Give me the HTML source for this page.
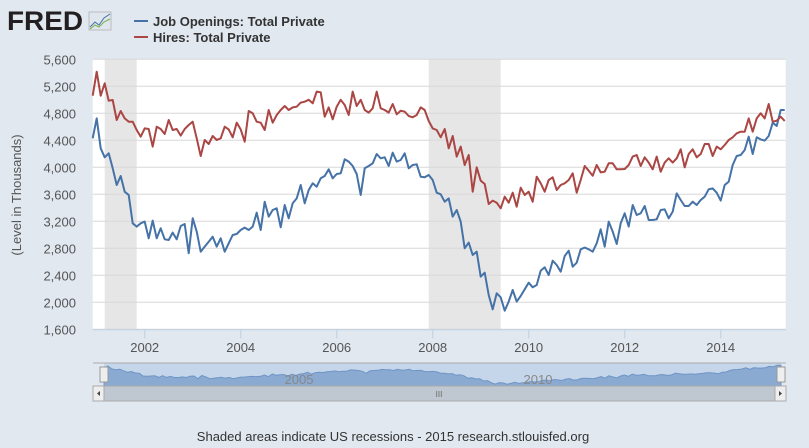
<!DOCTYPE html>
<html><head><meta charset="utf-8"><style>
body{margin:0;background:#e1e8f0;width:809px;height:448px;overflow:hidden;font-family:"Liberation Sans",sans-serif}
svg{position:absolute;left:0;top:0}
</style></head><body>
<svg id="c" width="809" height="448"></svg>
<script>
const startYear = 2000, startMonth = 11; // Dec 2000 (0-based month)
const yTicks = [1600,2000,2400,2800,3200,3600,4000,4400,4800,5200,5600];
const xTickYears = [2002,2004,2006,2008,2010,2012,2014];
const recessions = [[3,11],[84,102]];
const hires = [5061,5417,5061,5244,4987,4997,4701,4834,4725,4676,4676,4553,4454,4577,4568,4306,4602,4568,4493,4701,4553,4568,4469,4568,4627,4676,4429,4167,4405,4345,4464,4405,4429,4602,4562,4444,4661,4562,4380,4834,4800,4676,4661,4553,4849,4661,4775,4849,4908,4849,4888,4898,4958,4972,
5000,4948,5121,5111,4750,4888,4711,4898,5000,4923,4775,5121,4908,5000,4849,4810,4874,5121,4874,4849,4810,4938,4785,4839,4824,4760,4740,4775,4888,4849,4686,4577,4553,4444,4568,4281,4464,4158,4306,4034,4182,3639,4000,3802,3753,3456,3506,3476,3392,3565,3476,3624,3417,3698,3590,3639,3491,3861,3763,3639,3812,3852,3664,3738,3763,3812,3911,3624,3812,4019,3950,3876,4034,3925,3935,4059,
4059,3970,3970,3975,4034,4158,4182,4019,4148,4069,3970,4158,3935,4069,4133,4069,4133,4266,4000,4197,4266,4148,4197,4345,4345,4167,4306,4266,4330,4405,4444,4503,4528,4528,4725,4528,4725,4800,4725,4938,4676,4691,4750,4686];
const openings = [4429,4725,4281,4148,4207,3985,3738,3871,3639,3590,3170,3121,3170,3195,2948,3210,2948,3096,2933,2923,3032,2933,3131,3160,2726,3244,3047,2750,2825,2898,2972,2825,2948,2750,2874,2997,3012,3071,3106,3071,3121,3328,3071,3491,3269,3368,3393,3111,3442,3244,3466,3540,3738,3466,
3664,3763,3713,3837,3871,3970,3837,3901,3911,4118,4084,4019,3901,3590,3985,4019,4059,4197,4133,4148,4019,4217,4084,4108,4207,3985,4034,4044,3861,3852,3886,3812,3624,3600,3491,3540,3269,3368,3195,2800,2884,2701,2750,2380,2439,2108,1896,2133,2074,1876,2010,2182,2010,2094,2192,2291,2222,2257,2469,2518,2405,2617,2553,2454,2686,2765,2528,2587,2785,2810,2785,2750,2874,3081,2825,3195,
3047,2864,3170,3318,3121,3442,3294,3318,3427,3219,3219,3229,3368,3377,3244,3343,3614,3516,3427,3427,3491,3442,3516,3565,3674,3688,3624,3506,3738,3787,4034,4167,4182,4256,4454,4197,4444,4414,4395,4464,4661,4612,4849,4849];

const NS="http://www.w3.org/2000/svg", svg=document.getElementById('c');
const L=92.7,R=785.7,T=59.3,B=329.3;
const xi=i=>L+i*4, xs=y=>xi((y-startYear)*12-startMonth), yv=v=>B-(v-1600)/4000*(B-T);
function el(t,a,p){const e=document.createElementNS(NS,t);for(const k in a)e.setAttribute(k,a[k]);(p||svg).appendChild(e);return e;}
function tx(s,a){const e=el('text',a);e.textContent=s;return e;}

let e;
e=tx('FRED',{x:7,y:30,'font-size':27,'font-weight':'bold',fill:'#231f20',textLength:76,lengthAdjust:'spacingAndGlyphs'});

e=el('rect',{x:89,y:12,width:22,height:18,fill:'#dfe6ee',stroke:'#bbb'});

el('polyline',{points:'90,27 95,22 99,25 104,18 110,14',fill:'none',stroke:'#4572a7','stroke-width':1});
el('polyline',{points:'90,29 95,25 99,27 104,22 110,19',fill:'none',stroke:'#7ab04a','stroke-width':1});

const leg=[['Job Openings: Total Private','#4572a7',21],['Hires: Total Private','#aa4643',37]];
leg.forEach(([n,c,y])=>{
  const g=el('g',{});
  
  
  el('line',{x1:134,x2:148,y1:y,y2:y,stroke:c,'stroke-width':2},g);
  const t=el('text',{x:153,y:y+5,'font-size':13,'font-weight':'bold',fill:'#333'},g);t.textContent=n;
});

e=el('rect',{x:L,y:T,width:R-L,height:B-T,fill:'#fff'});

recessions.forEach(([a,b])=>{
  const r=el('rect',{x:xi(a),y:T,width:xi(b)-xi(a),height:B-T,fill:'#e6e6e6'});
  
  
});
yTicks.forEach(v=>{
  const g=el('line',{x1:L,x2:R,y1:yv(v),y2:yv(v),stroke:'#d8d8d8','stroke-width':1});
  
  
  const t=tx(v.toLocaleString('en-US'),{x:76,y:yv(v)+5,'text-anchor':'end','font-size':13,fill:'#555'});
  
  
});
el('line',{x1:L,x2:R,y1:B+0.5,y2:B+0.5,stroke:'#c0d0e0','stroke-width':1});
xTickYears.forEach(y=>{
  el('line',{x1:xs(y),x2:xs(y),y1:B,y2:B+9,stroke:'#c0d0e0'});
  const t=tx(String(y),{x:xs(y),y:352,'text-anchor':'middle','font-size':13,fill:'#555'});
  
  
});
e=tx('(Level in Thousands)',{x:0,y:0,'font-size':13,fill:'#555','text-anchor':'middle',transform:'translate(21,195) rotate(-90)'});


[[openings,'#4572a7','job-openings-line'],[hires,'#aa4643','hires-line']].forEach(([d,c,n])=>{
  const p=el('polyline',{points:d.map((v,i)=>xi(i).toFixed(1)+','+yv(v).toFixed(1)).join(' '),fill:'none',stroke:c,'stroke-width':2,'stroke-linejoin':'round'});
  
  
});

// navigator
const NT=363,NB=386,NL=104,NR=781;
e=el('rect',{x:NL,y:NT,width:NR-NL,height:NB-NT,fill:'#c5d6ea'});

const nx=i=>NL+i*(NR-NL)/(openings.length-1), ny=v=>NB-(v-1600)/3600*(NB-NT);
let pts=openings.map((v,i)=>nx(i).toFixed(1)+','+ny(v).toFixed(1)).join(' ');
e=el('polygon',{points:NL+','+NB+' '+pts+' '+NR+','+NB,fill:'#8aaad2',stroke:'#6f94c5','stroke-width':1});

tx('2005',{x:299,y:384,'font-size':13,fill:'#888','text-anchor':'middle'});
tx('2010',{x:538,y:384,'font-size':13,fill:'#888','text-anchor':'middle'});
el('line',{x1:93,x2:786,y1:NT,y2:NT,stroke:'#aaa'});
[NL,NR].forEach(x=>{
  const h=el('rect',{x:x-4,y:367,width:8,height:15,fill:'#eee',stroke:'#999'});
  
  
});
e=el('rect',{x:93,y:386,width:693,height:15,fill:'#bfc8d1',stroke:'#aaa'});

e=el('rect',{x:93,y:386,width:11,height:15,fill:'#eee',stroke:'#aaa'});

e=el('rect',{x:775,y:386,width:11,height:15,fill:'#eee',stroke:'#aaa'});

el('path',{d:'M100,391 L97,393.5 L100,396Z',fill:'#444'});
el('path',{d:'M779,391 L782,393.5 L779,396Z',fill:'#444'});
tx('III',{x:439,y:397,'font-size':8,fill:'#666','text-anchor':'middle'});

e=tx('Shaded areas indicate US recessions - 2015 research.stlouisfed.org',{x:393,y:441,'font-size':13,fill:'#333','text-anchor':'middle'});

</script>
</body></html>
